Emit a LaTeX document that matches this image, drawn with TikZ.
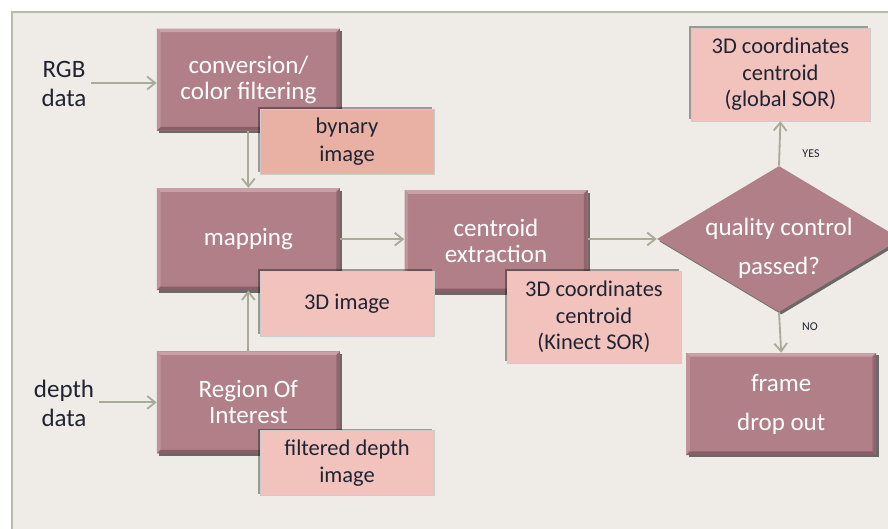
\documentclass[tikz,border=0pt]{standalone}
\usepackage{fontspec}
\setmainfont{Carlito}
\usetikzlibrary{arrows.meta,positioning,calc,shapes.geometric,shadows}

\definecolor{mauve}{HTML}{B07F87}
\definecolor{mauvelight}{HTML}{C9A0A7}
\definecolor{mauvedark}{HTML}{8A5E66}
\definecolor{salmon}{HTML}{E9B0A4}
\definecolor{rosebox}{HTML}{F2C2BC}
\definecolor{panel}{HTML}{EFEBE7}
\definecolor{framegray}{HTML}{B9BCA9}
\definecolor{flowc}{HTML}{A8AB98}
\definecolor{ink}{HTML}{1F2433}

\begin{document}
\begin{tikzpicture}[
  x=1cm, y=1cm,
  process/.style={fill=mauve, minimum width=4.575cm, minimum height=2.55cm, align=center, text=white,
    font=\fontsize{17.8}{18.5}\selectfont,
    drop shadow={shadow xshift=0.06cm, shadow yshift=-0.06cm, fill=black, opacity=0.55},
    path picture={
      \path (path picture bounding box.north west) coordinate (bnw)
            (path picture bounding box.south east) coordinate (bse);
      \fill[mauvelight] (bnw) -- (bnw -| bse) -- ($(bnw -| bse)+(-0.09,-0.09)$) -- ($(bnw)+(0.09,-0.09)$) -- cycle;
      \fill[mauvelight!60!mauve] (bnw) -- (bnw |- bse) -- ($(bnw |- bse)+(0.09,0.09)$) -- ($(bnw)+(0.09,-0.09)$) -- cycle;
      \fill[mauvedark] (bse) -- (bnw |- bse) -- ($(bnw |- bse)+(0.09,0.09)$) -- ($(bse)+(-0.09,0.09)$) -- cycle;
      \fill[mauvedark!80!mauve] (bse) -- (bnw -| bse) -- ($(bnw -| bse)+(-0.09,-0.09)$) -- ($(bse)+(-0.09,0.09)$) -- cycle;
    }},
  result/.style={draw=gray!40, thin, fill=rosebox, minimum width=4.35cm, minimum height=1.625cm, align=center, text=ink,
    font=\fontsize{16}{18.8}\selectfont,
    drop shadow={shadow xshift=-0.05cm, shadow yshift=0.05cm, fill=black, opacity=0.35}},
  decision/.style={diamond, aspect=1.67, fill=mauve, minimum width=6.1cm, minimum height=3.65cm, inner sep=-0.25cm,
    align=center, text=white, font=\fontsize{17.8}{28}\selectfont,
    drop shadow={shadow xshift=0.06cm, shadow yshift=-0.06cm, fill=black, opacity=0.55}},
  source/.style={align=center, text=ink, font=\fontsize{17.8}{21}\selectfont},
  tag/.style={text=ink, font=\fontsize{8.5}{10}\selectfont},
  flow/.style={draw=flowc, line width=1.3pt, -{Straight Barb[length=2mm, width=3.2mm]}}
]
\useasboundingbox (0,0) rectangle (22.2,-13.225);
\draw[framegray, line width=1.4pt, fill=panel] (0.29,-0.31) rectangle (23,-14);

\node[source] (rgb) at (1.6,-2.1) {RGB\\data};
\node[source] (depth) at (1.6,-10.08) {depth\\data};

\node[process] (conv) at (6.21,-1.99) {conversion/\\color filtering};
\node[process] (mapping) at (6.21,-5.98) {mapping};
\node[process] (roi) at (6.21,-10.06) {Region Of\\Interest};
\node[process] (centroid) at (12.4,-6.03) {centroid\\extraction};
\node[decision] (qc) at (19.475,-5.975) {\rule{0pt}{0.9cm}quality control\\passed?};
\node[process, minimum width=4.75cm, font=\fontsize{17.8}{27.7}\selectfont] (dropout) at (19.53,-10.1) {frame\\drop out};

\node[result, fill=salmon, font=\fontsize{16}{19.5}\selectfont] (bynary) at (8.675,-3.54) {bynary\\image};
\node[result] (img3d) at (8.675,-7.59) {3D image};
\node[result] (filtered) at (8.675,-11.575) {filtered depth\\image};
\node[result, minimum height=2.3cm] (kinect) at (14.85,-7.925) {3D coordinates\\centroid\\(Kinect SOR)};
\node[result, minimum width=4.475cm, minimum height=2.325cm] (globalsor) at (19.51,-1.86) {3D coordinates\\centroid\\(global SOR)};

\node[tag] (yes) at (20.275,-3.85) {YES};
\node[tag] (no) at (20.25,-8.175) {NO};

\draw[flow] (rgb.east |- 0,-2.075) -- (conv.west |- 0,-2.075);
\draw[flow] (depth.east |- roi.west) -- (roi.west);
\draw[flow] (conv.south) -- (mapping.north);
\draw[flow] (roi.north) -- (mapping.south);
\draw[flow] (mapping.east) -- (mapping.east -| centroid.west);
\draw[flow] (qc.west -| centroid.east) -- (qc.west);
\draw[flow] (qc.north) -- (globalsor.south);
\draw[flow] (qc.south) -- (dropout.north);
\end{tikzpicture}
\end{document}
